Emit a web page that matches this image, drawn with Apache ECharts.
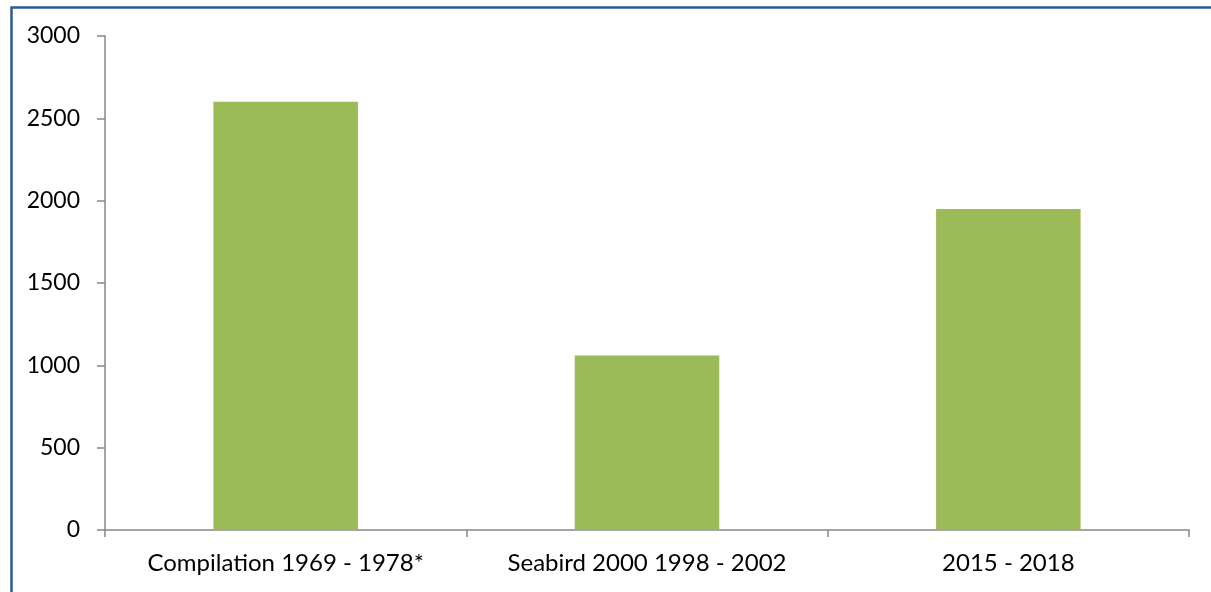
<!DOCTYPE html>
<html><head><meta charset="utf-8">
<script src="https://cdn.jsdelivr.net/npm/echarts@6/dist/echarts.min.js"></script>
<style>html,body{margin:0;padding:0;background:#fff}#c{width:1211px;height:592px}</style>
</head><body><div id="c"></div>
<script>
const categories = ["Compilation 1969 - 1978*", "Seabird 2000 1998 - 2002", "2015 - 2018"];
const values = [2600, 1060, 1950];
const yTicks = [0, 500, 1000, 1500, 2000, 2500, 3000];

const chart = echarts.init(document.getElementById('c'), null, {renderer: 'canvas'});
const font = 'Lato, "Liberation Sans", Arial, sans-serif';
chart.setOption({
  animation: false,
  backgroundColor: '#fff',
  graphic: [{
    type: 'rect', left: 9, top: 5,
    shape: {width: 1240, height: 620},
    style: {fill: 'none', stroke: '#2E5A94', lineWidth: 2.5},
    silent: true, z: 100
  }],
  grid: {left: 105, right: 22, top: 36, bottom: 62, containLabel: false},
  xAxis: {
    type: 'category', data: categories,
    axisLine: {lineStyle: {color: '#888', width: 1.5}},
    axisTick: {show: true, length: 7, alignWithLabel: false, lineStyle: {color: '#888', width: 1.5}},
    axisLabel: {color: '#000', fontSize: 24, fontFamily: font, margin: 21, interval: 0}
  },
  yAxis: {
    type: 'value', min: yTicks[0], max: yTicks[yTicks.length - 1], interval: 500,
    axisLine: {show: true, lineStyle: {color: '#888', width: 1.5}},
    axisTick: {show: true, length: 8, lineStyle: {color: '#888', width: 1.5}},
    splitLine: {show: false},
    axisLabel: {color: '#000', fontSize: 23, fontFamily: font, margin: 25, formatter: v => String(v)}
  },
  series: [{
    type: 'bar', data: values, barWidth: '40%',
    itemStyle: {color: '#9BBB59'}
  }]
});
</script></body></html>
